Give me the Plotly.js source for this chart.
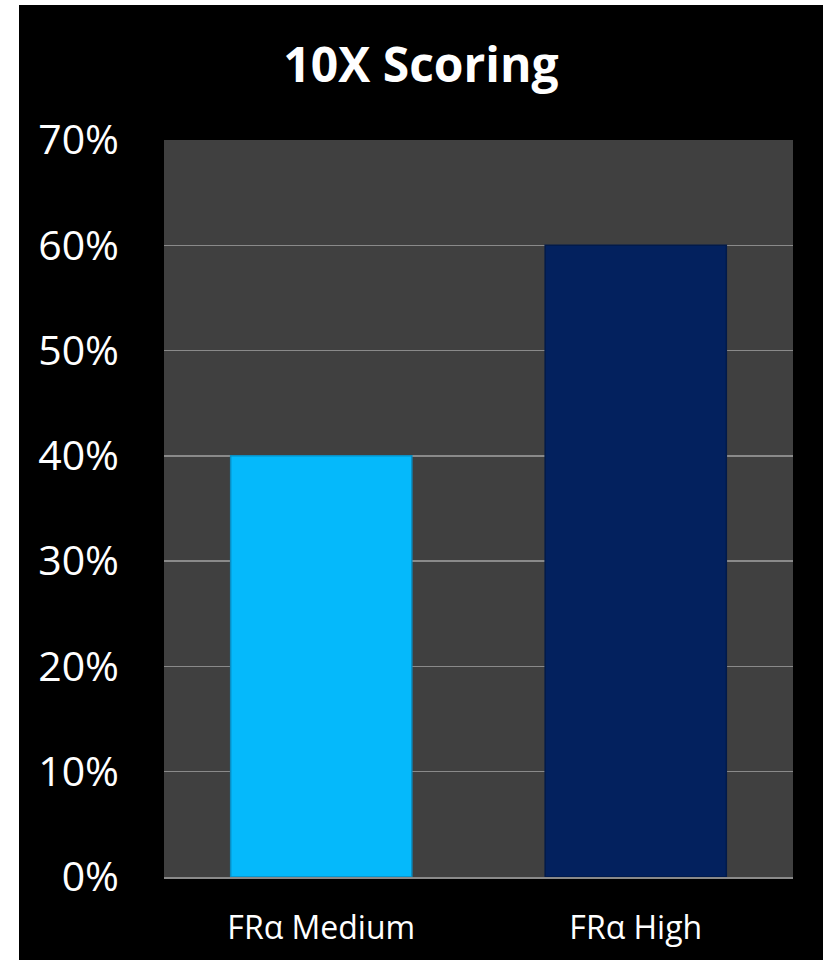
<!DOCTYPE html>
<html>
<head>
<meta charset="utf-8">
<script src="https://cdn.plot.ly/plotly-3.0.1.min.js"></script>
<style>
html,body{margin:0;padding:0;background:#ffffff;width:823px;height:960px;overflow:hidden;}
#chart{position:absolute;left:19px;top:5px;width:804px;height:955px;}
</style>
</head>
<body>
<div id="chart"></div>
<script>
const categories = ["FRα Medium", "FRα High"];
const values = [0.40, 0.60];
const barColors = ["#05B9FB", "#03215E"];
const barEdges = ["#0A8FC4", "#021A4A"];
const titleText = "10X Scoring";

const trace = {
  type: "bar",
  x: categories,
  y: values,
  marker: {color: barColors, line: {color: barEdges, width: 1.5}},
  hoverinfo: "none"
};

const layout = {
  width: 804,
  height: 955,
  paper_bgcolor: "#000000",
  plot_bgcolor: "#404040",
  margin: {l: 145, r: 30, t: 135, b: 83},
  showlegend: false,
  bargap: 0.424,
  title: {
    text: "<b>" + titleText + "</b>",
    font: {family: "Open Sans", size: 48, color: "#ffffff"},
    x: 0.5, xref: "container", xanchor: "center",
    y: 1 - 60/955, yref: "container", yanchor: "middle"
  },
  xaxis: {
    showgrid: false,
    showline: true,
    linecolor: "#8a8a8a",
    linewidth: 2,
    ticks: "",
    ticklabelstandoff: 22,
    tickfont: {family: "Open Sans", size: 32, color: "#ffffff"},
    zeroline: false
  },
  yaxis: {
    range: [0, 0.7],
    dtick: 0.1,
    tickformat: ".0%",
    showgrid: true,
    gridcolor: "#8a8a8a",
    gridwidth: 1.5,
    zeroline: false,
    showline: false,
    ticks: "",
    ticklabelstandoff: 44,
    tickfont: {family: "Open Sans", size: 41, color: "#ffffff"}
  }
};

Plotly.newPlot("chart", [trace], layout, {displayModeBar: false, staticPlot: true});
</script>
</body>
</html>
